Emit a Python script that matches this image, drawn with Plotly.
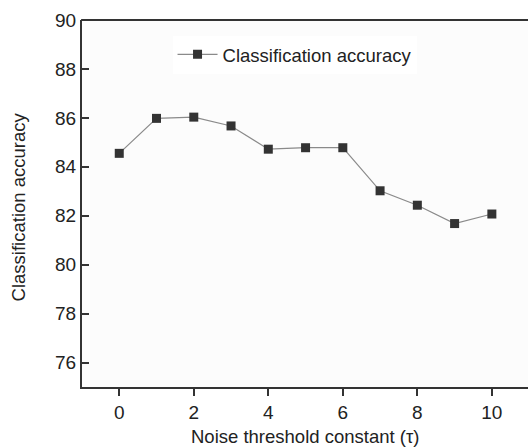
import plotly.graph_objects as go

tau = [0, 1, 2, 3, 4, 5, 6, 7, 8, 9, 10]
accuracy = [84.55, 85.98, 86.03, 85.67, 84.72, 84.78, 84.78, 83.02, 82.43, 81.68, 82.07]
x_ticks = [0, 2, 4, 6, 8, 10]
y_ticks = [76, 78, 80, 82, 84, 86, 88, 90]

font = "Liberation Sans, Arial, sans-serif"
axis_color = "#333333"
text_color = "#222222"

fig = go.Figure()
fig.add_trace(go.Scatter(
    x=tau, y=accuracy, mode="lines+markers", name="Classification accuracy",
    line=dict(color="#8a8a8a", width=1.2),
    marker=dict(symbol="square", size=9, color="#333333"),
))

fig.update_layout(
    width=528, height=447,
    margin=dict(l=82, r=0, t=20, b=60),
    paper_bgcolor="white",
    plot_bgcolor="#fcfcfc",
    font=dict(family=font, size=18, color=text_color),
    showlegend=True,
    legend=dict(
        x=0.203, y=0.957, xanchor="left", yanchor="top",
        bgcolor="white", borderwidth=0,
        font=dict(size=18.5, color=text_color),
        itemwidth=40,
    ),
    xaxis=dict(
        range=[-1, 10.97], tickvals=x_ticks, ticks="outside", ticklen=7,
        tickwidth=2, tickcolor=axis_color, showline=True, linecolor=axis_color,
        linewidth=2, mirror=False, showgrid=False, zeroline=False,
        tickfont=dict(size=19), automargin=False,
    ),
    yaxis=dict(
        range=[75, 90], tickvals=y_ticks, ticks="inside", ticklen=7,
        tickwidth=2, tickcolor=axis_color, showline=True, linecolor=axis_color,
        linewidth=2, mirror=False, showgrid=False, zeroline=False,
        tickfont=dict(size=19), ticklabelstandoff=0, automargin=False,
    ),
    shapes=[
        dict(type="line", xref="paper", yref="paper", x0=-0.002, x1=1.05, y0=1, y1=1,
             line=dict(color=axis_color, width=2)),
    ],
    annotations=[
        dict(text="Noise threshold constant (τ)", xref="paper", yref="paper",
             x=0.5, y=-0.136, xanchor="center", yanchor="middle",
             showarrow=False, font=dict(size=18.5, color=text_color)),
        dict(text="Classification accuracy", xref="paper", yref="paper",
             x=-0.143, y=0.49, xanchor="center", yanchor="middle", textangle=-90,
             showarrow=False, font=dict(size=18.5, color=text_color)),
    ],
)

fig.write_html("out.html", config={"displayModeBar": False},
               post_script="document.body.style.margin='0';document.body.style.overflow='hidden';")
